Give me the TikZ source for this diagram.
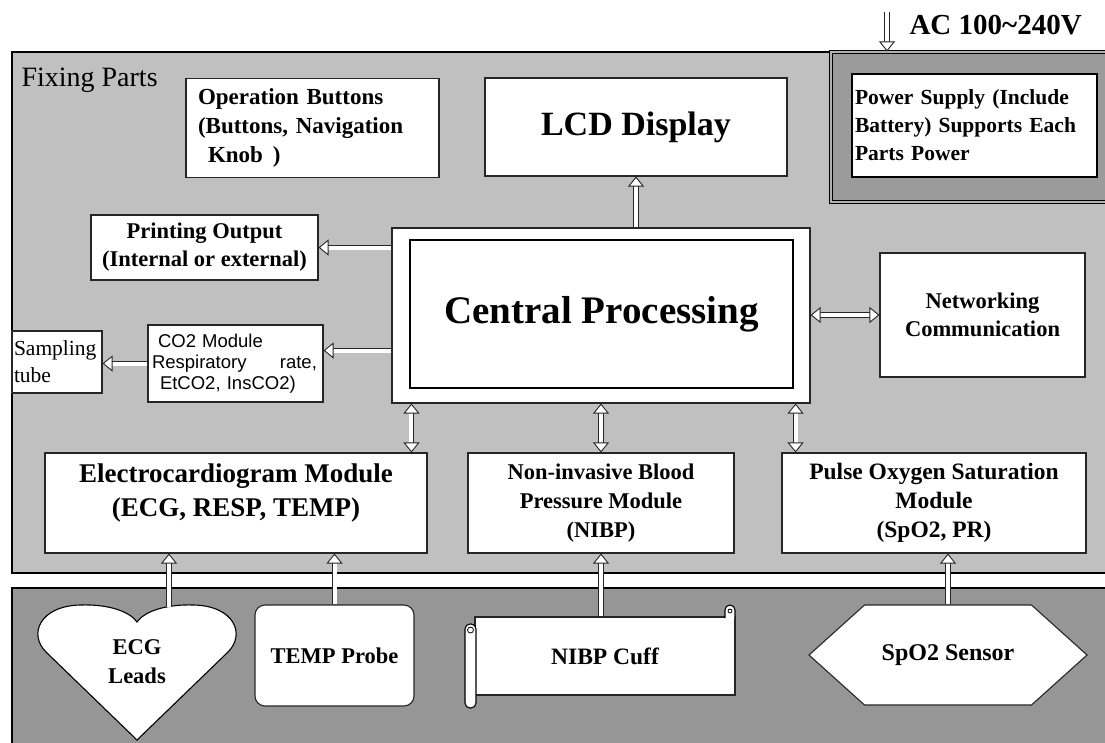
\documentclass[tikz,border=0pt]{standalone}
\usepackage{fontspec}
\setmainfont{Liberation Serif}
\newfontfamily\arialfont{Liberation Sans}
\usetikzlibrary{arrows.meta,shapes.symbols}
\definecolor{fixgray}{RGB}{192,192,192}
\definecolor{probegray}{RGB}{150,150,150}
\definecolor{psugray}{RGB}{155,155,155}

\begin{document}
\begin{tikzpicture}[x=1pt, y=-1pt,
		box/.style={draw=black!85, line width=1.1pt, fill=white, inner sep=2pt, align=center, font=\bfseries\fontsize{22.5}{29}\selectfont},
		tip/.tip={Triangle[open, fill=white, length=10pt, width=16pt, line width=0.9pt]},
		pipe/.style={draw=black!85, double=white, double distance=4pt, line width=0.9pt, -tip},
		pipes/.style={pipe, tip-tip}]
		\useasboundingbox (0,0) rectangle (1105,742);
		\fill[white] (0,0) rectangle (1105,742);
		\draw[line width=1.1pt, fill=fixgray] (12,52) rectangle (1120,573);
		\draw[line width=1.1pt, fill=probegray] (12,588) rectangle (1120,760);
		\node[anchor=west, font=\fontsize{28}{30}\selectfont] (fix) at (18,80) {Fixing Parts};
		\node[box, minimum width=253pt, minimum height=99pt, text width=229pt, align=left, inner xsep=12pt, font=\bfseries\fontsize{23}{29}\selectfont] (ops) at (312.5,128) {Operation Buttons\\(Buttons, Navigation\\\hspace*{10pt}Knob\hspace{10pt})};
		\node[box, minimum width=302pt, minimum height=98pt, font=\bfseries\fontsize{34}{38}\selectfont] (lcd) at (636,127) {LCD Display};
		\node[draw=black, line width=1.2pt, double=black!30, double distance=1.6pt, fill=psugray, minimum width=284pt, minimum height=150pt] (psuframe) at (973,127) {};
		\node[draw=black, line width=2.5pt, fill=white, minimum width=245pt, minimum height=103pt, text width=239pt, inner sep=3pt, align=left, font=\bfseries\fontsize{21.5}{28}\selectfont] (psu) at (974.5,125.5) {Power Supply (Include\\Battery) Supports Each\\Parts Power};
		\coordinate (acin) at (887,12);
		\node[anchor=west, font=\bfseries\fontsize{29}{32}\selectfont] (ac) at (906,25) {AC 100\textasciitilde240V};
		\node[draw=black!85, line width=1.1pt, fill=white, minimum width=418pt, minimum height=175pt] (cpuframe) at (601,315.5) {};
		\node[draw=black, line width=2pt, minimum width=383pt, minimum height=148pt, font=\bfseries\fontsize{39}{41}\selectfont] (cpu) at (601.5,314) {Central Processing};
		\node[box, minimum width=227pt, minimum height=65pt, font=\bfseries\fontsize{22.5}{28}\selectfont] (prn) at (204.5,247.5) {Printing Output\\(Internal or external)};
		\node[box, minimum width=175pt, minimum height=77pt, text width=167pt, align=left, inner xsep=4pt, font=\arialfont\fontsize{18.5}{21}\selectfont] (co2) at (235.5,363.5) {\hspace*{6pt}CO2 Module\\Respiratory\hspace{1.8em}rate,\\\hspace*{8pt}EtCO2, InsCO2)};
		\node[box, minimum width=90pt, minimum height=62pt, text width=86pt, align=left, font=\fontsize{21.5}{27}\selectfont] (smp) at (57,362) {Sampling\\tube};
		\node[box, minimum width=205pt, minimum height=124pt, font=\bfseries\fontsize{22.5}{28}\selectfont] (net) at (982.5,315) {Networking\\Communication};
		\node[box, minimum width=382pt, minimum height=100pt, label={[name=ecgtxt, align=center, yshift=10pt, font=\bfseries\fontsize{27}{34}\selectfont]center:{Electrocardiogram Module\\(ECG, RESP, TEMP)}}] (ecg) at (236,503) {};
		\node[box, minimum width=266pt, minimum height=100pt] (nibp) at (601,503) {Non-invasive Blood\\Pressure Module\\(NIBP)};
		\node[box, minimum width=304pt, minimum height=100pt, font=\bfseries\fontsize{23.5}{29}\selectfont] (pulse) at (934,503) {Pulse Oxygen Saturation\\Module\\(SpO2, PR)};
		\draw[line width=1.1pt, fill=white] (137,740) -- (46,652) .. controls (28,634) and (40,606) .. (80,605) .. controls (110,604) and (130,612) .. (137,622) .. controls (144,612) and (164,604) .. (194,605) .. controls (234,606) and (246,634) .. (228,652) -- cycle;
		\node[align=center, font=\bfseries\fontsize{22.5}{29}\selectfont] (leads) at (137,662) {ECG\\Leads};
		\coordinate (leadstop) at (169,607);
		\node[box, rounded corners=10pt, minimum width=159pt, minimum height=101pt] (temp) at (334.5,655.5) {TEMP Probe};
		\node[box, minimum width=260pt, minimum height=78pt, font=\bfseries\fontsize{23.5}{29}\selectfont] (cuff) at (605,656) {NIBP Cuff};
		\draw[line width=1.1pt, fill=white] (725,618) -- (725,610) arc[start angle=180, end angle=360, radius=5] -- (735,618);
		\draw[line width=0.8pt] (730,611) circle[radius=2];
		\draw[line width=1.1pt, fill=white, rounded corners=5pt] (465,624) rectangle (476,708);
		\draw[line width=0.8pt] (470.5,630) circle[radius=3];
		\node[box, shape=signal, signal to=east and west, signal pointer angle=84, minimum width=278pt, minimum height=100pt, font=\bfseries\fontsize{24}{29}\selectfont] (spo2) at (948,655) {SpO2 Sensor};
		\coordinate (co2in) at ([yshift=13pt]co2.east);
		\coordinate (ecgbus) at ([xshift=20pt]cpuframe.south west);
		\coordinate (pulsebus) at ([xshift=-15pt]cpuframe.south east);
		\draw[pipe] (acin) -- (acin |- psuframe.north);
		\draw[pipe] (lcd.south |- cpuframe.north) -- (lcd.south);
		\draw[pipe] (prn.east -| cpuframe.west) -- (prn.east);
		\draw[pipe] (co2in -| cpuframe.west) -- (co2in);
		\draw[pipe] (co2.west) -- (co2.west -| smp.east);
		\draw[pipes] (cpuframe.east |- net.west) -- (net.west);
		\draw[pipes] (ecgbus) -- (ecgbus |- ecg.north);
		\draw[pipes] (cpuframe.south) -- (cpuframe.south |- nibp.north);
		\draw[pipes] (pulsebus) -- (pulsebus |- pulse.north);
		\draw[pipe] (leadstop) -- (leadstop |- ecg.south);
		\draw[pipe] (temp.north) -- (temp.north |- ecg.south);
		\draw[pipe] (nibp.south |- cuff.north) -- (nibp.south);
		\draw[pipe] (spo2.north) -- (spo2.north |- pulse.south);
\end{tikzpicture}
\end{document}
